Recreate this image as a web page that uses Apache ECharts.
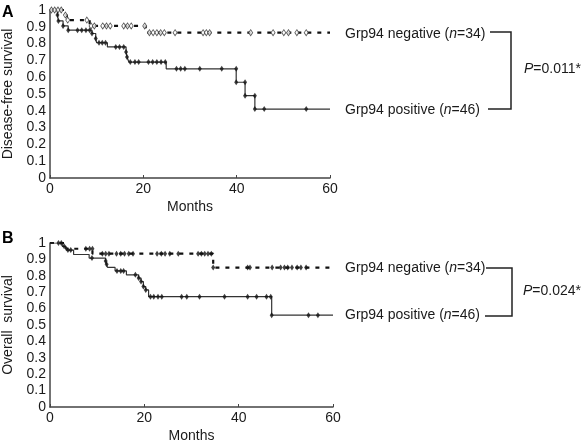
<!DOCTYPE html>
<html><head><meta charset="utf-8">
<script src="https://cdn.jsdelivr.net/npm/echarts@6/dist/echarts.min.js"></script>
<style>html,body{margin:0;padding:0;background:#fff}#c{width:586px;height:446px}</style>
</head><body><div id="c"></div>
<script>
// ---- Panel A: disease-free survival ----
const dfsNegT = [0, 3.1, 3.6, 8.5, 20.5, 60];
const dfsNegS = [1, 0.97, 0.94, 0.905, 0.865, 0.865];
const dfsNegCensT = [0.3, 1.0, 1.7, 2.4, 3.3, 3.8, 7.9, 8.8, 9.5, 11.3, 12.1, 12.9, 15.8, 16.6, 17.4, 20.3, 21.3, 22.1, 22.9, 23.7, 24.5, 26.8, 32.8, 33.5, 34.2, 43.0, 47.8, 50.1, 51.1, 52.9, 54.9];
const dfsNegCensS = [1, 1, 1, 1, 0.97, 0.94, 0.94, 0.905, 0.905, 0.905, 0.905, 0.905, 0.905, 0.905, 0.905, 0.905, 0.865, 0.865, 0.865, 0.865, 0.865, 0.865, 0.865, 0.865, 0.865, 0.865, 0.865, 0.865, 0.865, 0.865, 0.865];

const dfsPosT = [0, 1.6, 1.8, 2.8, 3.9, 9.0, 9.8, 10.0, 12.3, 16.3, 16.5, 16.9, 24.9, 39.9, 41.8, 43.9, 60];
const dfsPosS = [1, 0.97, 0.935, 0.905, 0.88, 0.86, 0.83, 0.805, 0.78, 0.75, 0.72, 0.69, 0.65, 0.57, 0.49, 0.41, 0.41];
const dfsPosCensT = [1.6, 1.8, 2.8, 3.9, 5.9, 6.8, 7.7, 8.5, 9.0, 9.8, 10.5, 11.2, 11.9, 14.1, 14.9, 15.8, 16.3, 16.5, 17.2, 18.2, 19.0, 21.1, 22.0, 22.9, 23.8, 24.7, 27.1, 28.0, 28.9, 32.1, 36.8, 39.9, 39.9, 41.8, 41.8, 43.9, 43.9, 45.9, 54.9];
const dfsPosCensS = [0.97, 0.935, 0.905, 0.88, 0.88, 0.88, 0.88, 0.88, 0.86, 0.83, 0.805, 0.805, 0.805, 0.78, 0.78, 0.78, 0.75, 0.72, 0.69, 0.69, 0.69, 0.69, 0.69, 0.69, 0.69, 0.69, 0.65, 0.65, 0.65, 0.65, 0.65, 0.65, 0.57, 0.57, 0.49, 0.49, 0.41, 0.41, 0.41];

// ---- Panel B: overall survival ----
const osNegT = [0, 3.4, 9.0, 34.6, 60];
const osNegS = [1, 0.965, 0.935, 0.85, 0.85];
const osNegCensT = [1.8, 2.4, 7.6, 8.4, 9.0, 11.1, 11.8, 12.5, 14.1, 15.0, 15.8, 16.7, 17.6, 22.7, 23.6, 24.4, 25.4, 27.2, 31.4, 32.1, 32.8, 33.5, 34.2, 34.6, 41.9, 42.4, 47.1, 48.9, 49.7, 50.4, 51.3, 52.4, 53.2, 54.3];
const osNegCensS = [1, 1, 0.965, 0.965, 0.965, 0.935, 0.935, 0.935, 0.935, 0.935, 0.935, 0.935, 0.935, 0.935, 0.935, 0.935, 0.935, 0.935, 0.935, 0.935, 0.935, 0.935, 0.935, 0.85, 0.85, 0.85, 0.85, 0.85, 0.85, 0.85, 0.85, 0.85, 0.85, 0.85];

const osPosT = [0, 2.6, 3.4, 5.0, 8.3, 11.8, 12.0, 12.2, 13.8, 16.2, 18.8, 19.3, 19.8, 20.3, 20.9, 47.0, 60];
const osPosS = [1, 0.98, 0.957, 0.93, 0.908, 0.89, 0.87, 0.851, 0.83, 0.806, 0.786, 0.765, 0.734, 0.714, 0.673, 0.56, 0.56];
const osPosCensT = [3.0, 3.8, 4.4, 8.9, 11.8, 12.0, 14.2, 15.0, 15.6, 18.1, 18.8, 19.3, 19.8, 20.3, 21.3, 22.0, 22.9, 23.7, 27.9, 29.0, 31.7, 37.0, 41.9, 43.8, 45.9, 46.8, 47.0, 54.8, 56.8];
const osPosCensS = [0.98, 0.957, 0.957, 0.908, 0.89, 0.87, 0.83, 0.83, 0.83, 0.806, 0.786, 0.765, 0.734, 0.714, 0.673, 0.673, 0.673, 0.673, 0.673, 0.673, 0.673, 0.673, 0.673, 0.673, 0.673, 0.673, 0.56, 0.56, 0.56];

const panelLabels = ['A', 'B'];
const yTitles = ['Disease-free survival', 'Overall  survival'];
const xTitle = 'Months';
const negLabel = 'Grp94 negative ({i|n}=34)';
const posLabel = 'Grp94 positive ({i|n}=46)';
const pValues = ['{i|P}=0.011*', '{i|P}=0.024*'];

const zip = (a, b) => a.map((v, i) => [v, b[i]]);
const FONT = 'Liberation Sans, Arial, Helvetica, sans-serif';
const TXT = '#1a1a1a';
const AX = '#444';

function xAx(gi) {
  return {
    gridIndex: gi, type: 'value', min: 0, max: 60, interval: 20,
    name: xTitle, nameLocation: 'middle', nameGap: 22,
    nameTextStyle: { fontFamily: FONT, fontSize: 14, color: TXT },
    axisLine: { lineStyle: { color: AX, width: 1.5 } },
    axisTick: { inside: true, length: 3, lineStyle: { color: AX } },
    axisLabel: { fontFamily: FONT, fontSize: 14, color: TXT, margin: 4 },
    splitLine: { show: false }
  };
}
function yAx(gi) {
  return {
    gridIndex: gi, type: 'value', min: 0, max: 1, interval: 0.1,
    name: yTitles[gi], nameLocation: 'middle', nameGap: 35,
    nameTextStyle: { fontFamily: FONT, fontSize: 14, color: TXT },
    axisLine: { show: true, lineStyle: { color: AX, width: 1.5 } },
    axisTick: { show: false },
    axisLabel: { fontFamily: FONT, fontSize: 14, color: TXT, margin: 4 },
    splitLine: { show: false }
  };
}
function stepLine(gi, t, s, dashed) {
  return {
    type: 'line', xAxisIndex: gi, yAxisIndex: gi, step: 'end',
    data: zip(t, s), showSymbol: false, silent: true,
    lineStyle: dashed ? { color: '#111', width: 2.2, type: [4, 6] } : { color: '#333', width: 1.2 },
    z: 2
  };
}
function marks(gi, t, s, open) {
  return {
    type: 'scatter', xAxisIndex: gi, yAxisIndex: gi, data: zip(t, s),
    symbol: 'diamond', symbolSize: [4, 6], silent: true,
    itemStyle: open ? { color: '#fff', borderColor: '#333', borderWidth: 0.9 } : { color: '#111' },
    z: 3
  };
}
const rich = { i: { fontStyle: 'italic', fontFamily: FONT, fontSize: 14, fill: TXT } };
function label(x, y, text) {
  return { type: 'text', left: x, top: y - 8, style: { text, fontFamily: FONT, fontSize: 14, fill: TXT, rich } };
}
function bracket(x1a, x1b, x2, y1, y2) {
  return {
    type: 'polyline', shape: { points: [[x1a, y1], [x2, y1], [x2, y2], [x1b, y2]] },
    style: { stroke: '#222', lineWidth: 1.5, fill: null }
  };
}

const chart = echarts.init(document.getElementById('c'), null, { renderer: 'canvas' });
chart.setOption({
  animation: false,
  backgroundColor: '#fff',
  grid: [
    { left: 47, top: 10, width: 283, height: 168 },
    { left: 47, top: 243, width: 286, height: 164 }
  ],
  xAxis: [xAx(0), xAx(1)],
  yAxis: [yAx(0), yAx(1)],
  series: [
    stepLine(0, dfsNegT, dfsNegS, true),
    stepLine(0, dfsPosT, dfsPosS, false),
    marks(0, dfsNegCensT, dfsNegCensS, true),
    marks(0, dfsPosCensT, dfsPosCensS, false),
    stepLine(1, osNegT, osNegS, true),
    stepLine(1, osPosT, osPosS, false),
    marks(1, osNegCensT, osNegCensS, false),
    marks(1, osPosCensT, osPosCensS, false)
  ],
  graphic: [
    { type: 'text', left: 2, top: 5, style: { text: panelLabels[0], fontFamily: FONT, fontSize: 16, fontWeight: 'bold', fill: '#000' } },
    { type: 'text', left: 2, top: 231, style: { text: panelLabels[1], fontFamily: FONT, fontSize: 16, fontWeight: 'bold', fill: '#000' } },
    label(345, 35, negLabel),
    label(345, 111, posLabel),
    bracket(490, 488, 511, 32, 109),
    label(524, 70, pValues[0]),
    label(345, 269, negLabel),
    label(345, 316, posLabel),
    bracket(486, 485, 512, 268, 316),
    label(523, 292, pValues[1])
  ]
});
</script></body></html>
